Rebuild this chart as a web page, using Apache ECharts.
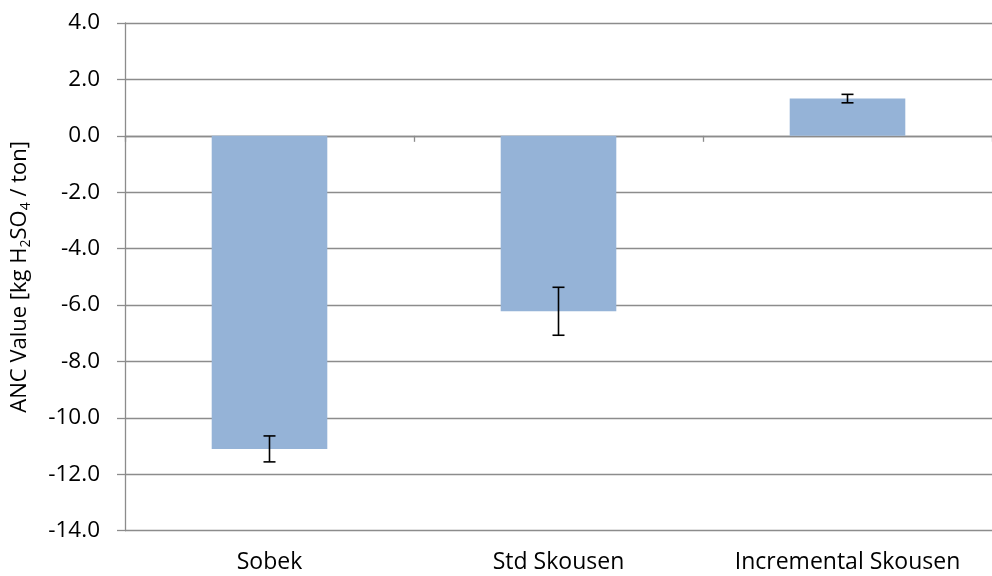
<!DOCTYPE html>
<html>
<head>
<meta charset="utf-8">
<script src="https://cdn.jsdelivr.net/npm/echarts@6/dist/echarts.min.js"></script>
<style>html,body{margin:0;padding:0;background:#fff}#c{width:992px;height:576px}</style>
</head>
<body>
<div id="c"></div>
<script>
const categories = ['Sobek', 'Std Skousen', 'Incremental Skousen'];
const ancValues = [-11.1, -6.22, 1.32];
const ancErrors = [0.46, 0.85, 0.15];
const yTicks = { min: -14, max: 4, interval: 2 };

const FONT = '"Open Sans", "Noto Sans", sans-serif';
const chart = echarts.init(document.getElementById('c'), null, { renderer: 'canvas' });

const errData = categories.map((c, i) => [i, ancValues[i] - ancErrors[i], ancValues[i] + ancErrors[i]]);

chart.setOption({
  animation: false,
  backgroundColor: '#ffffff',
  grid: { left: 125, top: 23, width: 876, height: 507.7, containLabel: false },
  xAxis: [
    {
      type: 'category', data: categories, position: 'bottom',
      axisLine: { onZero: true, lineStyle: { color: '#8c8c8c', width: 1.3 } },
      axisTick: { show: true, length: 6, interval: 0, lineStyle: { color: '#8c8c8c', width: 1.3 } },
      axisLabel: { show: false },
      splitLine: { show: false }
    },
    {
      type: 'category', data: categories, position: 'bottom',
      axisLine: { show: false, onZero: false },
      axisTick: { show: false },
      axisLabel: { show: true, interval: 0, hideOverlap: false, color: '#000', fontFamily: FONT, fontSize: 23, margin: 20 },
      splitLine: { show: false }
    }
  ],
  yAxis: {
    type: 'value', min: yTicks.min, max: yTicks.max, interval: yTicks.interval,
    axisLine: { show: true, lineStyle: { color: '#8c8c8c', width: 1.3 } },
    axisTick: { show: true, length: 8, lineStyle: { color: '#8c8c8c', width: 1.3 } },
    axisLabel: { color: '#000', fontFamily: FONT, fontSize: 22.5, margin: 25, formatter: v => v.toFixed(1) },
    splitLine: { show: true, lineStyle: { color: '#8c8c8c', width: 1.3 } },
    name: '{n|ANC Value [kg H}{s|2}{n|SO}{s|4}{n| / ton]}',
    nameLocation: 'middle', nameGap: 92, nameRotate: 90,
    nameTextStyle: {
      rich: {
        n: { fontFamily: FONT, fontSize: 22, color: '#000' },
        s: { fontFamily: FONT, fontSize: 14, color: '#000', padding: [13, 0, 0, 0] }
      }
    }
  },
  series: [
    {
      type: 'bar', data: ancValues, xAxisIndex: 0, barWidth: '40%',
      itemStyle: { color: '#95b3d7' }
    },
    {
      type: 'custom', xAxisIndex: 0, data: errData, z: 10,
      renderItem: function (params, api) {
        const x = api.value(0);
        const lo = api.coord([x, api.value(1)]);
        const hi = api.coord([x, api.value(2)]);
        const hw = 6;
        const style = { stroke: '#000', lineWidth: 1.6 };
        return {
          type: 'group',
          children: [
            { type: 'line', shape: { x1: lo[0], y1: lo[1], x2: hi[0], y2: hi[1] }, style },
            { type: 'line', shape: { x1: lo[0] - hw, y1: lo[1], x2: lo[0] + hw, y2: lo[1] }, style },
            { type: 'line', shape: { x1: hi[0] - hw, y1: hi[1], x2: hi[0] + hw, y2: hi[1] }, style }
          ]
        };
      }
    }
  ]
});
</script>
</body>
</html>
